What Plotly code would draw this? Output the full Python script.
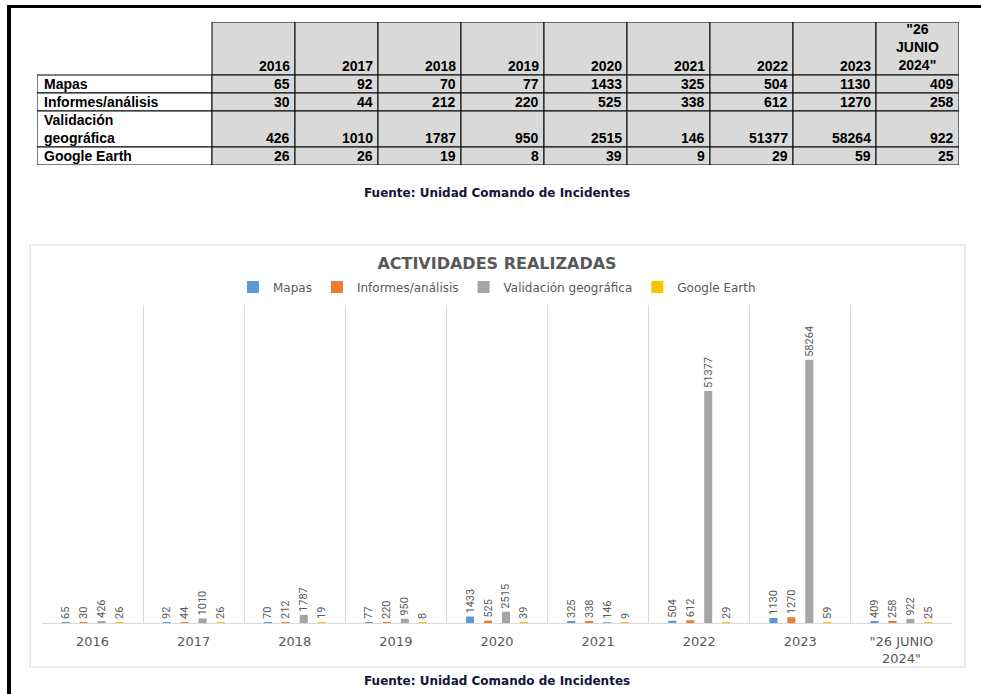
import plotly.graph_objects as go

# ---- data ----
years = ["2016", "2017", "2018", "2019", "2020", "2021", "2022", "2023", "\"26 JUNIO 2024\""]
series_names = ["Mapas", "Informes/análisis", "Validación geográfica", "Google Earth"]
mapas = [65, 92, 70, 77, 1433, 325, 504, 1130, 409]
informes = [30, 44, 212, 220, 525, 338, 612, 1270, 258]
validacion = [426, 1010, 1787, 950, 2515, 146, 51377, 58264, 922]
google_earth = [26, 26, 19, 8, 39, 9, 29, 59, 25]
table_row_labels = ["Mapas", "Informes/análisis", "Validación<br>geográfica", "Google Earth"]
table_headers = ["2016", "2017", "2018", "2019", "2020", "2021", "2022", "2023", "\"26<br>JUNIO<br>2024\""]
bar_categories = ["2016", "2017", "2018", "2019", "2020", "2021", "2022", "2023", "\"26 JUNIO<br>2024\""]
colors = ["#5B9BD5", "#ED7D31", "#A5A5A5", "#FFC000"]
source_text = "Fuente: Unidad Comando de Incidentes"
chart_title = "ACTIVIDADES REALIZADAS"

W, H = 981, 694
def px(x):
    return x / W
def py(y):
    return 1 - y / H

fig = go.Figure()
series_values = [mapas, informes, validacion, google_earth]

# ---- bars ----
for name, vals, c in zip(series_names, series_values, colors):
    fig.add_trace(go.Bar(
        name=name, x=bar_categories, y=vals,
        marker=dict(color=c, line=dict(width=0)),
        text=[str(v) for v in vals], textposition="outside", textangle=-90,
        constraintext="none", cliponaxis=False,
        textfont=dict(family="Roboto, DejaVu Sans", size=11, color="#595959"),
        xaxis="x", yaxis="y", hoverinfo="skip",
    ))

# ---- table (drawn on its own hidden axes, in cell units) ----
label_w = 175
col_w = 83
header_h = 53
row_heights = [18, 18, 36, 18]
table_font = dict(family="Liberation Sans, Arial", size=14, color="black")
shapes = []
annotations = []

def cell(x0, x1, y0, y1, fill):
    shapes.append(dict(type="rect", xref="x2", yref="y2", x0=x0, x1=x1, y0=y0, y1=y1,
                       fillcolor=fill, line=dict(color="black", width=1), layer="above"))

def txt(text, x, y, xanchor, align="right", yanchor="middle"):
    annotations.append(dict(text="<b>" + text + "</b>", x=x, y=y, xref="x2", yref="y2",
                            showarrow=False, xanchor=xanchor, yanchor=yanchor, align=align,
                            font=table_font))

# header
for j, h in enumerate(table_headers):
    x0 = label_w + j * col_w
    x1 = x0 + col_w
    cell(x0, x1, 0, header_h, "#D9D9D9")
    if "<br>" in h:
        txt(h, (x0 + x1) / 2, header_h, "center", align="center", yanchor="bottom")
    else:
        txt(h, x1 - 3, header_h - 9, "right")

# body
ytop = header_h
for i, (lab, vals) in enumerate(zip(table_row_labels, series_values)):
    rh = row_heights[i]
    ybot = ytop + rh
    cell(0, label_w, ytop, ybot, "white")
    txt(lab, 5, (ytop + ybot) / 2, "left", align="left")
    for j, v in enumerate(vals):
        x0 = label_w + j * col_w
        x1 = x0 + col_w
        cell(x0, x1, ytop, ybot, "#D9D9D9")
        txt(str(v), x1 - 3, ybot - 9, "right")
    ytop = ybot

table_w = label_w + col_w * len(table_headers)
table_h = ytop

# ---- decorations ----
shapes += [
    dict(type="rect", xref="paper", yref="paper", x0=px(30), x1=px(965), y0=py(667), y1=py(245),
         line=dict(color="#D9D9D9", width=1), fillcolor="white", layer="below"),
    dict(type="rect", xref="paper", yref="paper", x0=px(7), x1=1, y0=py(8), y1=py(5),
         line=dict(width=0), fillcolor="black"),
    dict(type="rect", xref="paper", yref="paper", x0=px(7), x1=px(11), y0=0, y1=py(5),
         line=dict(width=0), fillcolor="black"),
]
for yy in (193, 681):
    annotations.append(dict(text="<b>" + source_text + "</b>", x=px(497), y=py(yy), xref="paper", yref="paper",
                            showarrow=False, xanchor="center", yanchor="middle",
                            font=dict(family="DejaVu Sans", size=12, color="#14143a")))

fig.update_layout(
    width=W, height=H,
    margin=dict(l=0, r=0, t=0, b=0),
    paper_bgcolor="white", plot_bgcolor="rgba(0,0,0,0)",
    barmode="group", bargap=0.29, bargroupgap=0.55,
    title=dict(text="<b>" + chart_title + "</b>", x=px(497), y=py(263), xanchor="center", yanchor="middle",
               xref="paper", yref="paper",
               font=dict(family="DejaVu Sans", size=16, color="#595959")),
    legend=dict(orientation="h", x=px(497), y=py(287), xanchor="center", yanchor="middle",
                font=dict(family="DejaVu Sans", size=12, color="#595959"),
                itemwidth=30, tracegroupgap=0, bgcolor="rgba(0,0,0,0)"),
    xaxis=dict(domain=[px(42), px(952)], anchor="y", type="category",
               tickson="boundaries", showgrid=True, gridcolor="#D9D9D9", gridwidth=1,
               showline=True, linecolor="#D9D9D9", linewidth=1, ticks="", ticklabelstandoff=6,
               tickfont=dict(family="DejaVu Sans", size=13, color="#595959"), zeroline=False,
               fixedrange=True),
    yaxis=dict(domain=[py(623), py(305)], anchor="x", range=[0, 70400], visible=False,
               showgrid=False, fixedrange=True),
    xaxis2=dict(domain=[px(37), px(37 + table_w)], anchor="y2", range=[0, table_w],
                visible=False, showgrid=False, zeroline=False, fixedrange=True),
    yaxis2=dict(domain=[py(22 + table_h), py(22)], anchor="x2", range=[table_h, 0],
                visible=False, showgrid=False, zeroline=False, fixedrange=True),
    showlegend=True,
    shapes=shapes,
    annotations=annotations,
)

fig.write_html("out.html", config={"displayModeBar": False},
               post_script="document.body.style.margin='0';document.body.style.overflow='hidden';")
